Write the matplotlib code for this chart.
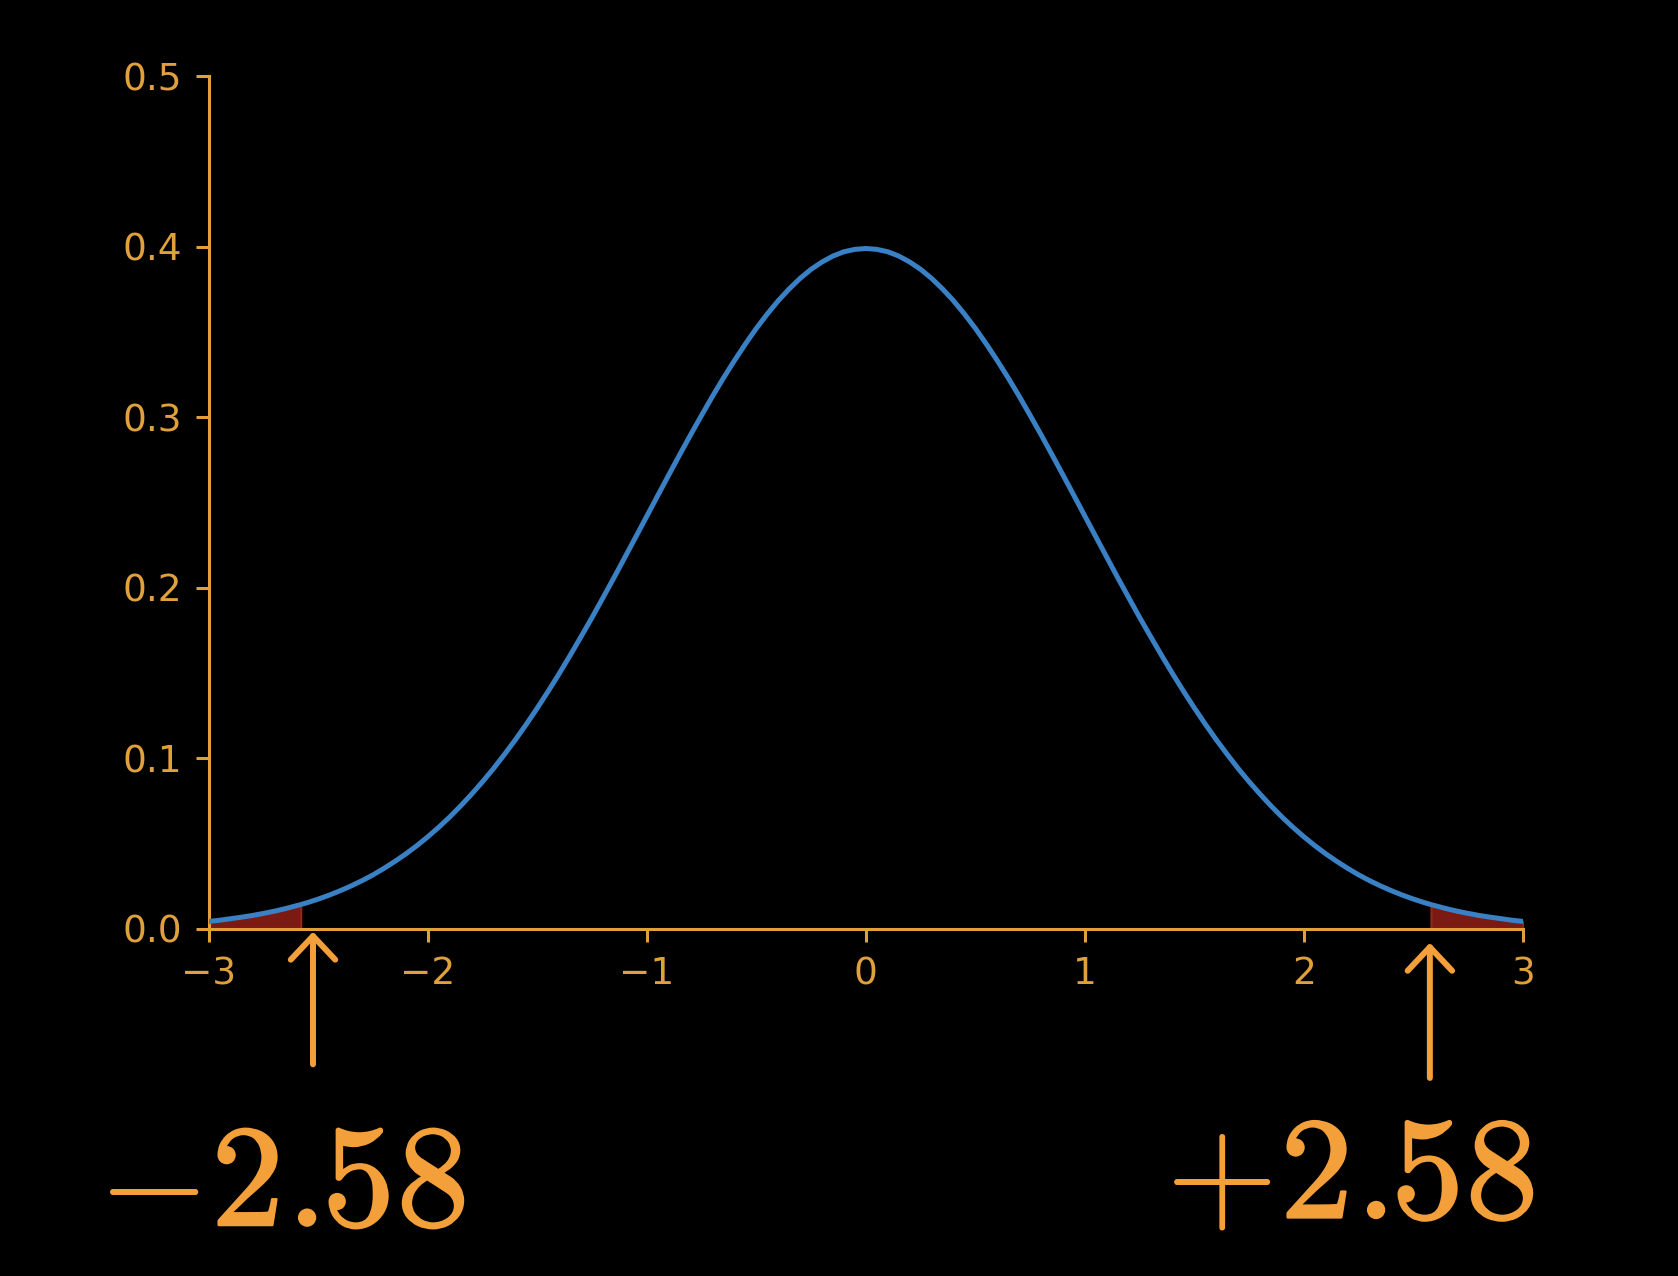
import matplotlib
matplotlib.use("Agg")
import matplotlib.pyplot as plt
import matplotlib.patheffects as pe

# standard normal density, right half (x >= 0);
# the left half is the mirror image
half_x = [0.0, 0.05, 0.1, 0.15, 0.2, 0.25, 0.3, 0.35, 0.4, 0.45,
          0.5, 0.55, 0.6, 0.65, 0.7, 0.75, 0.8, 0.85, 0.9, 0.95,
          1.0, 1.05, 1.1, 1.15, 1.2, 1.25, 1.3, 1.35, 1.4, 1.45,
          1.5, 1.55, 1.6, 1.65, 1.7, 1.75, 1.8, 1.85, 1.9, 1.95,
          2.0, 2.05, 2.1, 2.15, 2.2, 2.25, 2.3, 2.35, 2.4, 2.45,
          2.5, 2.55, 2.58, 2.6, 2.65, 2.7, 2.75, 2.8, 2.85, 2.9, 2.95, 3.0]
half_density = [0.3989, 0.3984, 0.3970, 0.3945, 0.3910, 0.3867, 0.3814, 0.3752, 0.3683, 0.3605,
                0.3521, 0.3429, 0.3332, 0.3230, 0.3123, 0.3011, 0.2897, 0.2780, 0.2661, 0.2541,
                0.2420, 0.2299, 0.2179, 0.2059, 0.1942, 0.1826, 0.1714, 0.1604, 0.1497, 0.1394,
                0.1295, 0.1200, 0.1109, 0.1023, 0.0940, 0.0863, 0.0790, 0.0721, 0.0656, 0.0596,
                0.0540, 0.0488, 0.0440, 0.0396, 0.0355, 0.0317, 0.0283, 0.0252, 0.0224, 0.0198,
                0.0175, 0.0154, 0.0143, 0.0136, 0.0119, 0.0104, 0.0091, 0.0079, 0.0069, 0.0060,
                0.0051, 0.0044]
critical = 2.58
signs = [r"$-$", r"$+$"]
value_text = "2.58"
x_ticks = [-3, -2, -1, 0, 1, 2, 3]
y_ticks = [0.0, 0.1, 0.2, 0.3, 0.4, 0.5]

x_vals = [-v for v in half_x[:0:-1]] + half_x
density = half_density[:0:-1] + half_density

AXIS = "#e0a03c"
ACCENT = "#f4a03a"
CURVE = "#3a80c4"
TAIL = "#7a1a12"

plt.rcParams["mathtext.fontset"] = "cm"

fig = plt.figure(figsize=(16.78, 12.76), dpi=100, facecolor="black")
ax = fig.add_axes([0.1244, 0.2720, 0.7832, 0.6684], facecolor="black")

ax.plot(x_vals, density, color=CURVE, lw=3.6, zorder=3)
left_tail = [v <= -critical for v in x_vals]
right_tail = [v >= critical for v in x_vals]
for mask in (left_tail, right_tail):
    ax.fill_between(x_vals, density, 0, where=mask, color=TAIL,
                    edgecolor="#9a2418", lw=1.5, zorder=2)

ax.set_xlim(-3, 3)
ax.set_ylim(0, 0.5)
ax.set_xticks(x_ticks)
ax.set_yticks(y_ticks)
ax.set_yticklabels([f"{v:.1f}" for v in y_ticks])
for side in ("top", "right"):
    ax.spines[side].set_visible(False)
for side in ("left", "bottom"):
    ax.spines[side].set_color(AXIS)
    ax.spines[side].set_linewidth(2.2)
ax.tick_params(colors=AXIS, labelsize=27, length=9.5, width=2.2, pad=10)

# arrows pointing at the critical values
arrow_style = dict(arrowstyle="->,head_length=0.85,head_width=0.8", color=ACCENT,
                   lw=4.3, mutation_scale=20)
ax.annotate("", xy=(-2.524, 0.0), xytext=(-2.524, -0.081), arrowprops=arrow_style,
            annotation_clip=False)
ax.annotate("", xy=(2.575, -0.0065), xytext=(2.575, -0.089), arrowprops=arrow_style,
            annotation_clip=False)

# big labels: thin sign, heavy, widely set digits (glyph centres in px from digit start)
heavy = [pe.withStroke(linewidth=1.8, foreground=ACCENT)]
glyph_offsets = [30, 87, 141, 216]
for sign, x_sign, x_num, base in ((signs[0], 199, 215, 0.0395),
                                  (signs[1], 1271, 1284, 0.0455)):
    fig.text(x_sign / 1678, base, sign, color=ACCENT, fontsize=104,
             ha="right", va="baseline")
    for ch, off in zip(value_text, glyph_offsets):
        fig.text((x_num + off) / 1678, base, rf"$\mathbf{{{ch}}}$", color=ACCENT,
                 fontsize=104, ha="center", va="baseline", path_effects=heavy)

fig.savefig("out.png", dpi=100, facecolor="black")
